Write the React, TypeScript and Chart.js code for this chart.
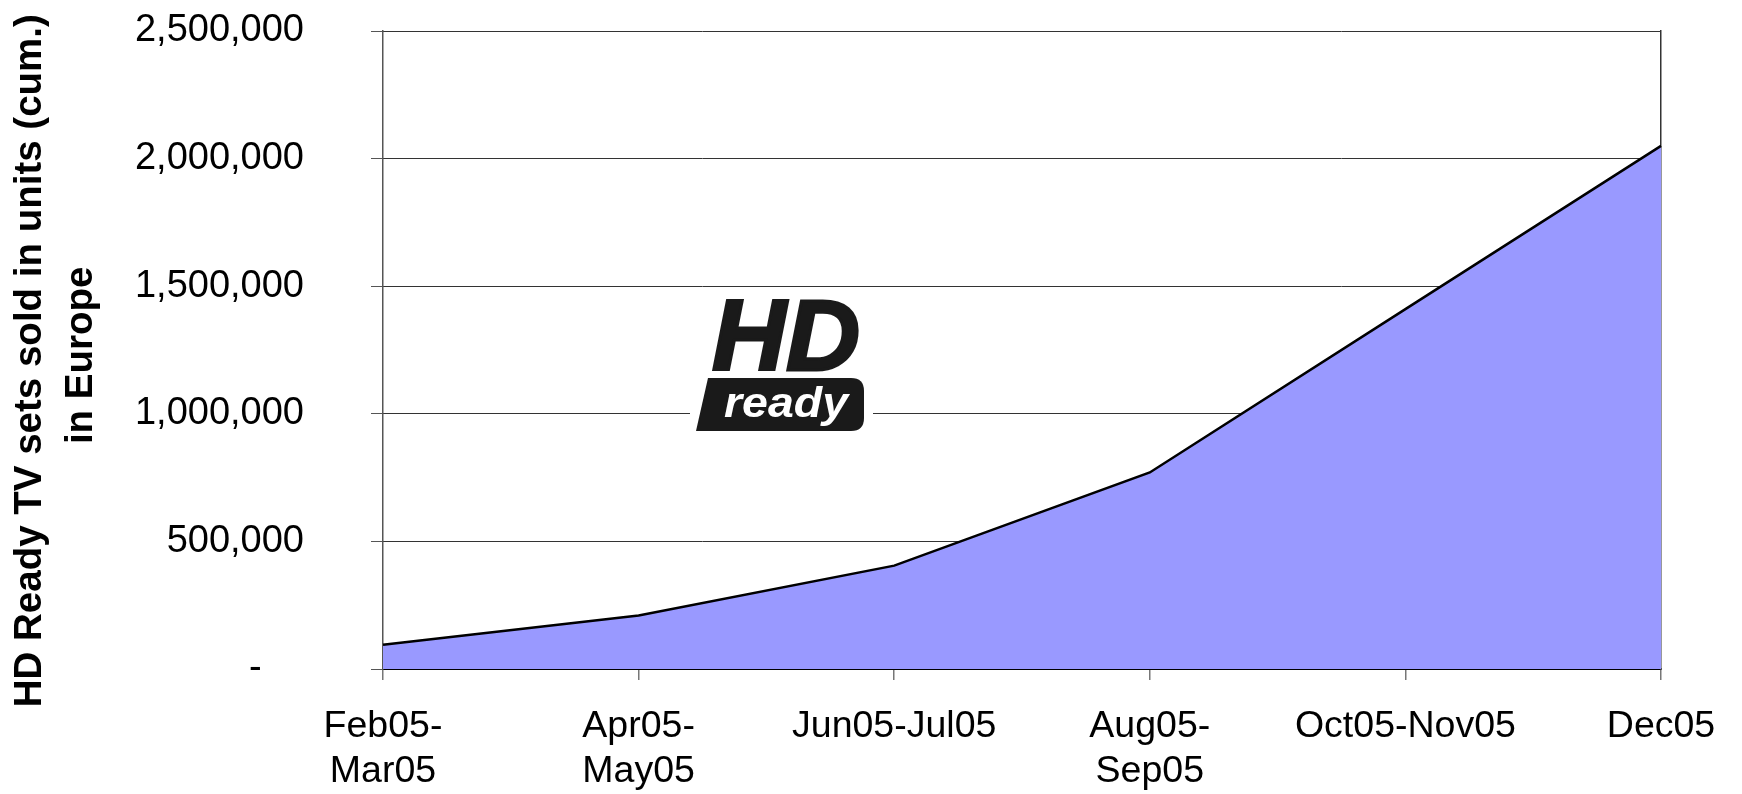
import React, { useEffect, useRef } from 'react';
import { Chart, registerables } from 'chart.js';

Chart.register(...registerables);

const categories: (string | string[])[] = [
  ['Feb05-', 'Mar05'],
  ['Apr05-', 'May05'],
  'Jun05-Jul05',
  ['Aug05-', 'Sep05'],
  'Oct05-Nov05',
  'Dec05',
];
const unitsSold = [95000, 210000, 405000, 770000, 1410000, 2050000];
const yMin = 0;
const yMax = 2500000;
const yStep = 500000;
const yTitleLines = ['HD Ready TV sets sold in units (cum.)\u00a0\u00a0', 'in Europe\u00a0'];
const zeroLabel = '-\u00a0\u00a0\u00a0\u00a0';

const FONT = '"Liberation Sans", Arial, Helvetica, sans-serif';
const W = 1742;
const H = 794;

export default function App() {
  const ref = useRef<HTMLCanvasElement | null>(null);

  useEffect(() => {
    if (!ref.current) return;
    const chart = new Chart(ref.current, {
      type: 'line',
      data: {
        labels: categories as any,
        datasets: [
          {
            data: unitsSold,
            fill: 'origin',
            backgroundColor: '#9999FF',
            borderColor: '#000000',
            borderWidth: 2.5,
            pointRadius: 0,
            tension: 0,
          },
        ],
      },
      options: {
        responsive: false,
        animation: false,
        devicePixelRatio: 1,
        layout: { padding: { top: 31, right: 81, bottom: 0, left: 0 } },
        plugins: { legend: { display: false }, tooltip: { enabled: false }, title: { display: false } },
        scales: {
          x: {
            type: 'category',
            offset: false,
            z: 1,
            grid: { display: true, drawOnChartArea: false, drawTicks: true, tickLength: 11, tickColor: '#777777', lineWidth: 1.5 },
            border: { display: true, color: '#000000', width: 2 },
            ticks: {
              autoSkip: false,
              maxRotation: 0,
              minRotation: 0,
              padding: 24,
              color: '#000000',
              font: { family: FONT, size: 37.5, lineHeight: 1.2 },
            },
            afterFit: (s: any) => {
              s.height = 125;
            },
          },
          yGrid: {
            type: 'linear',
            position: 'left',
            min: yMin,
            max: yMax,
            ticks: { display: false, stepSize: yStep },
            grid: { display: true, drawOnChartArea: true, drawTicks: false, color: '#333333', lineWidth: 1 },
            border: { display: false },
            afterFit: (s: any) => {
              s.width = 0;
              s.paddingTop = 0;
              s.paddingBottom = 0;
            },
          },
          y: {
            type: 'linear',
            position: 'left',
            min: yMin,
            max: yMax,
            z: 1,
            grid: { display: true, drawOnChartArea: false, drawTicks: true, tickLength: 12, tickColor: '#555555', lineWidth: 1 },
            border: { display: true, color: '#555555', width: 1.5 },
            ticks: {
              stepSize: yStep,
              padding: 67,
              color: '#000000',
              font: { family: FONT, size: 38 },
              callback: (v: any) => (Number(v) === 0 ? zeroLabel : Number(v).toLocaleString('en-US')),
            },
            title: {
              display: true,
              text: yTitleLines,
              color: '#000000',
              padding: { top: 5, bottom: 0 },
              font: { family: FONT, size: 38.5, weight: 'bold', lineHeight: 1.33 },
            },
            afterFit: (s: any) => {
              s.width = 383;
              s.paddingTop = 0;
              s.paddingBottom = 0;
            },
          },
          yRight: {
            type: 'linear',
            position: 'right',
            min: yMin,
            max: yMax,
            display: true,
            z: 1,
            ticks: { display: false },
            grid: { display: false },
            border: { display: true, color: '#333333', width: 1.5 },
            afterFit: (s: any) => {
              s.width = 0;
              s.paddingTop = 0;
              s.paddingBottom = 0;
            },
          },
        },
      } as any,
    });
    return () => chart.destroy();
  }, []);

  return (
    <div style={{ position: 'fixed', left: 0, top: 0, width: W, height: H, background: '#ffffff' }}>
      <canvas ref={ref} width={W} height={H} style={{ width: W, height: H, display: 'block' }} />
      <svg
        width={188}
        height={152}
        viewBox="0 0 188 152"
        style={{ position: 'absolute', left: 688, top: 286 }}
      >
        <rect x={2} y={4} width={183} height={146} fill="#ffffff" />
        <text
          x={24}
          y={84}
          fontFamily={FONT}
          fontWeight={900}
          fontStyle="italic"
          fontSize={100}
          fill="#1a1a1a"
          stroke="#1a1a1a"
          strokeWidth={3}
          textLength={148}
          lengthAdjust="spacingAndGlyphs"
        >
          HD
        </text>
        <path d="M20,92 H163 Q176,92 176,105 V132 Q176,145 163,145 H8 Z" fill="#1a1a1a" />
        <text
          x={36}
          y={131}
          fontFamily={FONT}
          fontWeight={700}
          fontStyle="italic"
          fontSize={42}
          fill="#ffffff"
          textLength={124}
          lengthAdjust="spacingAndGlyphs"
        >
          ready
        </text>
      </svg>
    </div>
  );
}
